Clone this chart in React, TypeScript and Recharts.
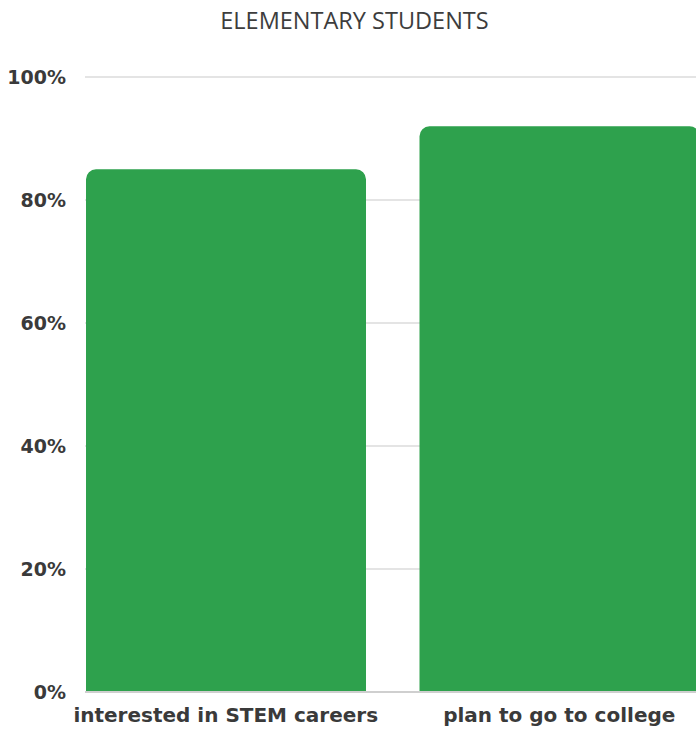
import { BarChart, Bar, XAxis, YAxis, CartesianGrid } from "recharts"

const categories = ["interested in STEM careers", "plan to go to college"]
const shares = [85, 92]
const yTicks = [0, 20, 40, 60, 80, 100]

const data = categories.map((name, i) => ({ name, value: shares[i] }))

const labelFont = "'DejaVu Sans', sans-serif"

export default function App() {
  return (
    <div
      style={{
        position: "absolute",
        left: 0,
        top: 0,
        width: 696,
        height: 729,
        overflow: "hidden",
        background: "#fff"
      }}
    >
      <div
        style={{
          position: "absolute",
          top: 4,
          left: 0,
          width: 709,
          textAlign: "center",
          fontFamily: "'Open Sans', sans-serif",
          fontSize: 23.5,
          color: "#3d3d3d"
        }}
      >
        ELEMENTARY STUDENTS
      </div>

      <BarChart
        width={700}
        height={729}
        data={data}
        margin={{ top: 77, right: 0, bottom: 0, left: 0 }}
        barCategoryGap={27}
      >
        <CartesianGrid vertical={false} stroke="#e4e4e4" strokeWidth={2} />
        <XAxis
          dataKey="name"
          height={37}
          padding={{ left: -26, right: -26 }}
          tickLine={false}
          axisLine={{ stroke: "#cfcfcf", strokeWidth: 2 }}
          tick={{
            fill: "#3a3a3a",
            fontSize: 20,
            fontWeight: 700,
            fontFamily: labelFont
          }}
          tickMargin={10}
        />
        <YAxis
          width={85}
          domain={[0, 100]}
          ticks={yTicks}
          tickFormatter={(v) => `${v}%`}
          axisLine={false}
          tickLine={false}
          tickSize={0}
          tickMargin={19}
          tick={{
            fill: "#3a3a3a",
            fontSize: 19,
            fontWeight: 700,
            fontFamily: labelFont
          }}
        />
        <Bar
          dataKey="value"
          fill="#2ea14d"
          radius={[10, 10, 0, 0]}
          isAnimationActive={false}
        />
      </BarChart>
    </div>
  )
}
